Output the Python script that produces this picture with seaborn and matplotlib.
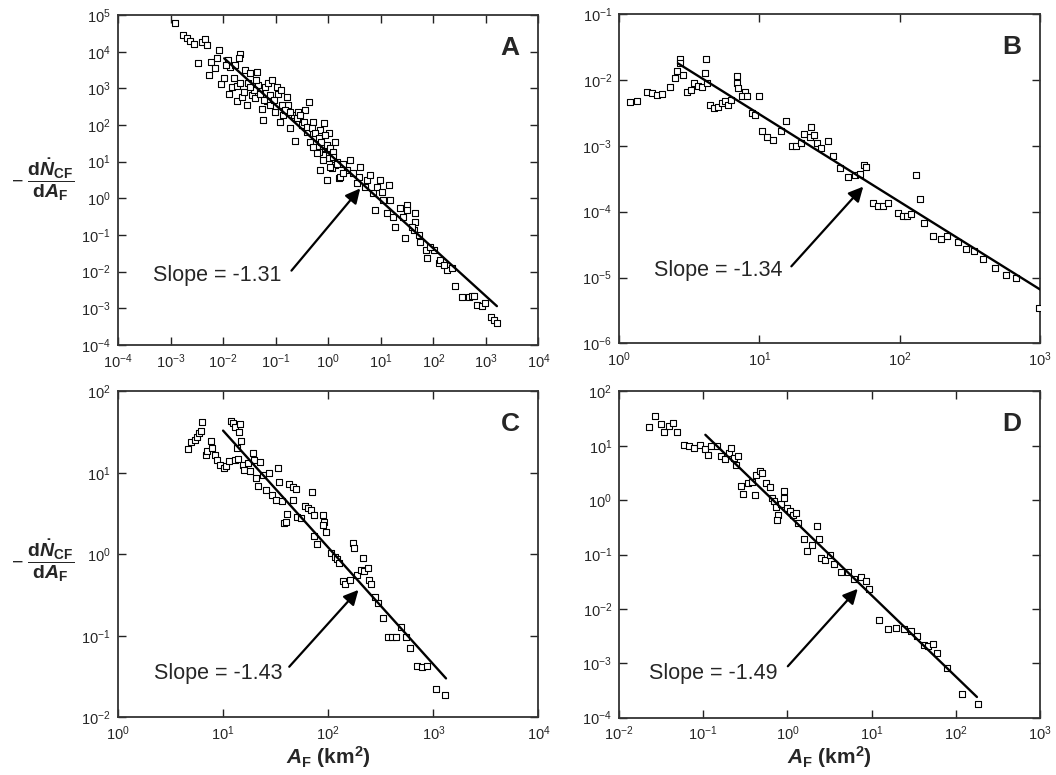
import matplotlib
matplotlib.use("Agg")
import matplotlib.pyplot as plt
import seaborn as sns
import pandas as pd
from matplotlib.ticker import LogLocator, NullLocator

# ---------------- data ----------------
A_area = [0.00123, 0.0017, 0.00204, 0.00234, 0.00282, 0.00389, 0.00457, 0.00501, 0.00339, 0.0055,
          0.006, 0.0071, 0.0085, 0.0076, 0.0093, 0.0105, 0.0126, 0.0135, 0.0132, 0.0151,
          0.0186, 0.017, 0.0209, 0.0204, 0.0182, 0.0229, 0.0263, 0.0282, 0.0324, 0.0355,
          0.0407, 0.0437, 0.0468, 0.0575, 0.055, 0.063, 0.072, 0.085, 0.079, 0.068,
          0.105, 0.112, 0.126, 0.098, 0.123, 0.141, 0.162, 0.174, 0.19, 0.234,
          0.219, 0.269, 0.316, 0.363, 0.427, 0.389, 0.457, 0.525, 0.603, 0.708,
          0.83, 0.81, 1.02, 1.17, 1.35, 1.48, 1.58, 0.0158, 0.0245, 0.0302,
          0.038, 0.05, 0.059, 0.079, 0.093, 0.132, 0.151, 0.19, 0.251, 0.295,
          0.339, 0.389, 0.49, 0.562, 0.66, 0.724, 0.87, 0.93, 1.1, 1.26,
          1.35, 1.17, 1.02, 0.81, 0.66, 0.525, 0.0209, 0.0324, 0.0427, 0.0115,
          0.603, 0.81, 1.1, 1.48, 1.7, 1.95, 2.63, 2.29, 3.02, 4.07,
          3.8, 5.5, 6.3, 9.8, 14.1, 5.0, 7.2, 7.9, 11.2, 13.2,
          17.4, 19, 31.6, 30.9, 45.7, 45.7, 29.5, 42.7, 56, 71,
          76, 102, 126, 182, 229, 263, 355, 468, 550, 676,
          851, 977, 1230, 1410, 1620, 1.26, 1.95, 3.55, 8.5, 10.5,
          15.1, 23.4, 26.9, 38.9, 52.5, 87, 135, 158, 589, 0.708,
          0.93]
A_rate = [5.9e4, 2.8e4, 2.3e4, 1.95e4, 1.6e4, 1.86e4, 2.24e4, 1.5e4, 5.0e3, 2.3e3,
          5.4e3, 3.5e3, 1.12e4, 6.6e3, 1.3e3, 1.86e3, 5.9e3, 3.9e3, 720, 1.12e3,
          1.17e3, 4.4e3, 8.5e3, 6.6e3, 440, 590, 3.2e3, 355, 2.6e3, 660,
          540, 2.8e3, 1.23e3, 138, 280, 1.12e3, 1.38e3, 1.7e3, 660, 440,
          1.12e3, 720, 890, 230, 123, 186, 590, 355, 81, 36,
          186, 230, 100, 257, 437, 66, 35.5, 123, 25.7, 72,
          112, 23, 59, 15, 35.5, 10, 3.5, 1.86e3, 810, 1.38e3,
          890, 720, 480, 355, 480, 355, 257, 230, 151, 186,
          123, 89, 81, 59, 44, 35.5, 54, 28, 23, 18.6,
          8.1, 6.6, 12.3, 15, 18.6, 25.7, 1.38e3, 1.12e3, 1.7e3, 4.4e3,
          17, 11.2, 7.2, 8.9, 3.9, 8.9, 11, 5.9, 4.8, 7.2,
          3.9, 3.16, 4.4, 3.16, 2.3, 2.1, 1.38, 0.48, 0.89, 0.39,
          0.316, 0.17, 0.66, 0.48, 0.39, 0.23, 0.081, 0.138, 0.066, 0.039,
          0.023, 0.039, 0.017, 0.0112, 0.0123, 0.0041, 0.0021, 0.0021, 0.0022, 0.00123,
          0.00115, 0.00138, 5.9e-4, 4.8e-4, 4.1e-4, 13.8, 4.8, 2.6, 2.1, 1.5,
          0.89, 0.54, 0.316, 0.17, 0.1, 0.048, 0.021, 0.015, 0.0022, 5.9,
          3.16]

B_area = [1.19, 1.34, 1.59, 1.71, 1.85, 2.03, 2.3, 2.5, 2.57, 2.7,
          2.7, 2.87, 3.03, 3.25, 3.4, 3.65, 3.87, 4.07, 4.2, 4.25,
          4.45, 4.75, 5.1, 5.4, 5.7, 6.0, 6.3, 6.9, 6.9, 7.1,
          7.9, 7.5, 8.1, 10.0, 8.8, 9.3, 10.4, 11.4, 12.6, 14.2,
          15.6, 17.0, 18.3, 19.8, 20.9, 23.4, 22.9, 24.4, 25.6, 27.4,
          30.7, 33.3, 37.4, 42.9, 47.8, 52, 56, 57.8, 64, 70,
          76, 83, 98, 105, 112, 121, 131, 139, 150, 173,
          198, 219, 259, 297, 340, 391, 478, 572, 675, 980]
B_rate = [4.6e-3, 4.7e-3, 6.6e-3, 6.4e-3, 5.8e-3, 6.1e-3, 7.9e-3, 1.06e-2, 1.34e-2, 2.1e-2,
          1.8e-2, 1.2e-2, 6.6e-3, 7.0e-3, 8.9e-3, 8.1e-3, 7.9e-3, 1.26e-2, 2.1e-2, 8.9e-3,
          4.1e-3, 3.8e-3, 3.9e-3, 4.4e-3, 4.7e-3, 4.2e-3, 5.0e-3, 1.15e-2, 9.1e-3, 7.5e-3,
          6.6e-3, 5.6e-3, 5.7e-3, 5.7e-3, 3.1e-3, 2.9e-3, 1.7e-3, 1.38e-3, 1.22e-3, 1.65e-3,
          2.4e-3, 1.0e-3, 9.8e-4, 1.1e-3, 1.5e-3, 1.9e-3, 1.38e-3, 1.47e-3, 1.1e-3, 9.2e-4,
          1.2e-3, 7.1e-4, 4.6e-4, 3.4e-4, 3.6e-4, 3.7e-4, 5.1e-4, 4.7e-4, 1.35e-4, 1.23e-4,
          1.23e-4, 1.35e-4, 9.5e-5, 8.7e-5, 8.7e-5, 9.3e-5, 3.6e-4, 1.55e-4, 6.7e-5, 4.2e-5,
          3.8e-5, 4.2e-5, 3.5e-5, 2.7e-5, 2.5e-5, 1.9e-5, 1.38e-5, 1.1e-5, 9.8e-6, 3.5e-6]

C_area = [4.6, 4.9, 5.35, 5.6, 5.9, 6.2, 6.3, 6.9, 7.1, 7.6,
          7.8, 8.3, 8.8, 9.4, 10.1, 10.6, 11.4, 11.8, 12.5, 13.1,
          14.1, 14.5, 13.1, 14.0, 14.7, 13.7, 15.4, 15.9, 17.1, 17.9,
          19.1, 19.8, 20.6, 21.3, 22.6, 23.8, 25.5, 27.4, 29.4, 31.8,
          33, 34, 36.7, 42.6, 46.7, 49, 46, 41, 37.6, 39.8,
          51, 55, 59.5, 64, 69, 70.6, 74, 73, 78, 89,
          92, 89, 96, 107, 115, 121, 128, 138, 145, 160,
          171, 175, 188, 203, 213, 218, 240, 247, 258, 277,
          297, 330, 370, 405, 445, 495, 553, 595, 705, 780,
          870, 1060, 1300]
C_rate = [19.5, 23.6, 25, 27.5, 31, 33, 42.6, 16.6, 18.3, 24.3,
          20.2, 16.6, 14.4, 12.5, 11.4, 12.0, 13.8, 43.6, 40.6, 37,
          32, 40, 14.4, 14.8, 24.3, 20, 12.5, 10.9, 13.2, 10.4,
          17.3, 14.4, 8.7, 6.8, 13.4, 9.5, 6.2, 9.9, 5.4, 4.7,
          11.5, 7.8, 4.5, 7.4, 6.7, 6.3, 4.7, 3.1, 2.4, 2.5,
          2.9, 2.8, 3.9, 3.7, 3.5, 5.9, 3.05, 1.66, 1.32, 3.05,
          2.5, 2.3, 1.9, 1.03, 0.94, 0.87, 0.78, 0.47, 0.43, 0.49,
          1.38, 1.2, 0.56, 0.65, 0.89, 0.62, 0.68, 0.49, 0.43, 0.30,
          0.25, 0.165, 0.098, 0.096, 0.096, 0.129, 0.096, 0.070, 0.042, 0.041,
          0.043, 0.022, 0.0187]

D_area = [0.0224, 0.0269, 0.0316, 0.034, 0.0389, 0.0437, 0.0491, 0.0588, 0.0673, 0.0773,
          0.0906, 0.104, 0.113, 0.124, 0.146, 0.163, 0.179, 0.20, 0.214, 0.229,
          0.245, 0.256, 0.281, 0.294, 0.336, 0.375, 0.41, 0.426, 0.466, 0.50,
          0.564, 0.617, 0.65, 0.70, 0.73, 0.77, 0.76, 0.85, 0.91, 0.92,
          0.99, 1.06, 1.17, 1.27, 1.32, 1.58, 1.73, 1.94, 2.25, 2.35,
          2.51, 2.81, 3.17, 3.57, 4.28, 5.3, 6.2, 7.5, 8.6, 9.4,
          12.3, 15.8, 19.5, 24, 29.5, 34.7, 41.6, 47, 53, 60,
          79, 117, 182]
D_rate = [21.9, 35.5, 25.6, 17.7, 23, 26.5, 17.7, 10.5, 9.8, 9.1,
          10.5, 8.7, 6.9, 9.8, 10, 6.6, 5.6, 7.4, 9.1, 6.0,
          4.5, 6.6, 1.8, 1.3, 2.07, 2.2, 1.26, 2.95, 3.4, 3.2,
          2.07, 1.73, 1.1, 0.95, 0.74, 0.54, 0.44, 0.86, 1.45, 1.1,
          0.72, 0.62, 0.54, 0.58, 0.38, 0.19, 0.116, 0.149, 0.34, 0.195,
          0.087, 0.078, 0.10, 0.068, 0.047, 0.047, 0.035, 0.038, 0.032, 0.0235,
          0.0063, 0.0042, 0.0045, 0.0042, 0.0039, 0.0032, 0.0022, 0.0021, 0.0023, 0.00155,
          8.1e-4, 2.7e-4, 1.8e-4]

# fitted power-law lines (end points)
A_fit_x, A_fit_y = [0.0105, 1620], [6600, 0.00115]
B_fit_x, B_fit_y = [2.63, 1000], [0.0178, 6.6e-6]
C_fit_x, C_fit_y = [10, 1320], [33, 0.030]
D_fit_x, D_fit_y = [0.106, 178], [15.9, 2.4e-4]

slope_labels = ["Slope = -1.31", "Slope = -1.34", "Slope = -1.43", "Slope = -1.49"]
panel_letters = ["A", "B", "C", "D"]
xlims = [(1e-4, 1e4), (1e0, 1e3), (1e0, 1e4), (1e-2, 1e3)]
ylims = [(1e-4, 1e5), (1e-6, 1e-1), (1e-2, 1e2), (1e-4, 1e2)]
# text anchor (right edge), arrow tail, arrow head
text_pos = [(0.127, 0.0079), (14.7, 1.26e-5), (36.9, 0.0347), (0.769, 6.6e-4)]
arrow_tail = [(0.20, 0.0107), (16.9, 1.48e-5), (42.6, 0.0417), (1.01, 8.8e-4)]
arrow_head = [(4.07, 1.87), (55, 2.4e-4), (194, 0.366), (6.84, 0.0234)]

# ---------------- style ----------------
sns.set_theme(style="ticks")
plt.rcParams["font.family"] = ["Liberation Sans", "DejaVu Sans"]
plt.rcParams["mathtext.fontset"] = "custom"
plt.rcParams["mathtext.rm"] = "Liberation Sans:bold"
plt.rcParams["mathtext.it"] = "Liberation Sans:italic:bold"
plt.rcParams["mathtext.bf"] = "Liberation Sans:bold"
plt.rcParams["axes.unicode_minus"] = True

fig = plt.figure(figsize=(10.56, 7.75), dpi=100)
rects = [[0.1117, 0.5548, 0.3982, 0.4258],
         [0.5862, 0.5568, 0.3987, 0.4252],
         [0.1117, 0.0745, 0.3982, 0.4205],
         [0.5862, 0.0740, 0.3987, 0.4210]]

datasets = [(A_area, A_rate, A_fit_x, A_fit_y),
            (B_area, B_rate, B_fit_x, B_fit_y),
            (C_area, C_rate, C_fit_x, C_fit_y),
            (D_area, D_rate, D_fit_x, D_fit_y)]

ylab = r"$\mathdefault{-}\;\dfrac{\mathrm{d}\dot{N}_{\mathrm{CF}}}{\mathrm{d}A_{\mathrm{F}}}$"
xlab = r"$A_{\mathrm{F}}$ (km$^{\mathrm{2}}$)"

for i, (rect, (xs, ys, fx, fy)) in enumerate(zip(rects, datasets)):
    ax = fig.add_axes(rect)
    ax.set_xscale("log")
    ax.set_yscale("log")
    df = pd.DataFrame({"area": xs, "rate": ys})
    sns.scatterplot(data=df, x="area", y="rate", marker="s", s=15,
                    color="white", edgecolor="black", linewidth=0.8,
                    ax=ax, zorder=3)
    fdf = pd.DataFrame({"area": fx, "rate": fy})
    sns.lineplot(data=fdf, x="area", y="rate", color="black", linewidth=1.7,
                 sort=False, estimator=None, ax=ax, zorder=4)
    ax.set_xlim(*xlims[i])
    ax.set_ylim(*ylims[i])
    for axis in (ax.xaxis, ax.yaxis):
        axis.set_major_locator(LogLocator(base=10, numticks=20))
        axis.set_minor_locator(NullLocator())
    ax.tick_params(which="major", direction="in", top=True, right=True,
                   length=6, width=1.0, labelsize=10.5, pad=5, color="#222222")
    for sp in ax.spines.values():
        sp.set_linewidth(1.3)
        sp.set_color("#333333")
    ax.set_xlabel("")
    ax.set_ylabel("")
    ax.text(0.955, 0.9, panel_letters[i], transform=ax.transAxes,
            ha="right", va="center", fontsize=19, fontweight="bold")
    ax.text(text_pos[i][0], text_pos[i][1], slope_labels[i],
            ha="right", va="center", fontsize=15.5)
    ax.annotate("", xy=arrow_head[i], xytext=arrow_tail[i],
                arrowprops=dict(arrowstyle="-|>", color="black", lw=1.6,
                                mutation_scale=22, shrinkA=0, shrinkB=0))
    if i in (0, 2):
        ax.set_ylabel(ylab, rotation=0, fontsize=14, ha="center", va="center")
        ax.yaxis.set_label_coords(-0.18, 0.5 if i == 0 else 0.48)
    if i in (2, 3):
        ax.set_xlabel(xlab, fontsize=15, fontweight="bold", labelpad=1)

fig.savefig("out.png", dpi=100)
